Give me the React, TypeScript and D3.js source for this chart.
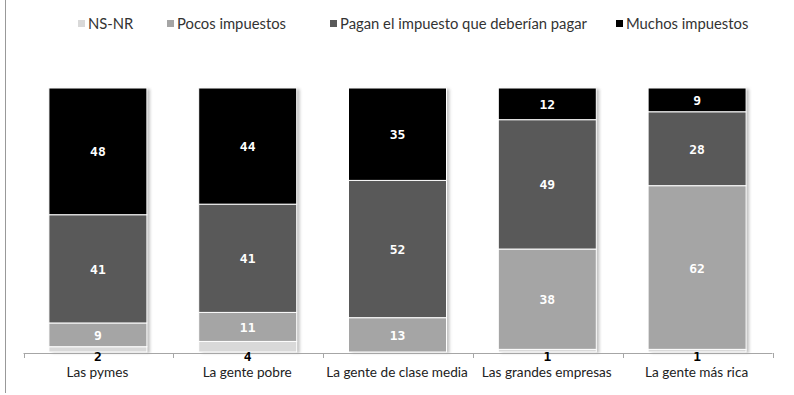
import React from "react";
import * as d3 from "d3";

const categories = ["Las pymes", "La gente pobre", "La gente de clase media", "Las grandes empresas", "La gente más rica"];
const seriesNames = ["NS-NR", "Pocos impuestos", "Pagan el impuesto que deberían pagar", "Muchos impuestos"];
const nsnr = [2, 4, 0, 1, 1];
const pocos = [9, 11, 13, 38, 62];
const pagan = [41, 41, 52, 49, 28];
const muchos = [48, 44, 35, 12, 9];
const colors = ["#d9d9d9", "#a5a5a5", "#595959", "#000000"];
const labelColors = ["#000000", "#ffffff", "#ffffff", "#ffffff"];

export default function App() {
  const W = 794, H = 395;
  const series = [nsnr, pocos, pagan, muchos];
  const rows = categories.map((c, i) => ({ cat: c, s0: nsnr[i], s1: pocos[i], s2: pagan[i], s3: muchos[i] }));
  const stack = d3.stack<any>().keys(["s0", "s1", "s2", "s3"])(rows);
  const x = d3.scaleBand().domain(categories).range([23.5, 772.5]).paddingInner(0).paddingOuter(0);
  const bw = 98;
  const y = d3.scaleLinear().domain([0, 100]).range([352, 88]);
  const axisY = 353;
  const legendX = [78, 167, 330, 616];
  const font = "Lato, 'Open Sans', sans-serif";
  return (
    <svg width={W} height={H} style={{ position: "absolute", left: 0, top: 0, background: "#fff" }}>
      <defs>
        <filter id="sh" x="-20%" y="-20%" width="140%" height="140%">
          <feGaussianBlur stdDeviation="1.5" />
        </filter>
      </defs>
      <rect width={W} height={H} fill="#fff" />
      <line x1={5.5} x2={5.5} y1={0} y2={393} stroke="#999" strokeWidth={1} />
      {/* legend */}
      {seriesNames.map((n, i) => (
        <g key={n}>
          <rect x={legendX[i]} y={20} width={7} height={7} fill={colors[i]} />
          <text x={legendX[i] + 10} y={29} fontFamily={font} fontSize={14.8} fill="#333">{n}</text>
        </g>
      ))}
      {/* shadows */}
      {categories.map((c) => {
        const x0 = (x(c) as number) + (x.bandwidth() - bw) / 2 - 0.5;
        return <rect key={"sh" + c} x={x0 + 3} y={y(100) + 1} width={bw} height={y(0) - y(100)} fill="#999" opacity={0.6} filter="url(#sh)" />;
      })}
      {/* bars */}
      {stack.map((layer, li) => (
        <g key={li}>
          {layer.map((d, ci) => {
            const v = d[1] - d[0];
            if (v <= 0) return null;
            const x0 = (x(categories[ci]) as number) + (x.bandwidth() - bw) / 2 - 0.5;
            return (
              <rect key={ci} x={x0} y={y(d[1])} width={bw} height={y(d[0]) - y(d[1])} fill={colors[li]} stroke="#fff" strokeWidth={1} />
            );
          })}
        </g>
      ))}
      {/* axis */}
      <line x1={23.5} x2={772.5} y1={axisY + 0.5} y2={axisY + 0.5} stroke="#a6a6a6" strokeWidth={1} />
      {d3.range(categories.length + 1).map((i) => {
        const tx = Math.round(23.5 + i * x.step()) + 0.5;
        return <line key={i} x1={tx} x2={tx} y1={axisY} y2={axisY + 5} stroke="#a6a6a6" />;
      })}
      {categories.map((c) => (
        <text key={c} x={(x(c) as number) + x.bandwidth() / 2 - 1} y={377} textAnchor="middle" fontFamily={font} fontSize={13.6} fill="#222">{c}</text>
      ))}
      {/* labels */}
      {stack.map((layer, li) => (
        <g key={"l" + li}>
          {layer.map((d, ci) => {
            const v = series[li][ci];
            if (v <= 0) return null;
            const cx = (x(categories[ci]) as number) + x.bandwidth() / 2 - 0.5;
            let cy = (y(d[0]) + y(d[1])) / 2 + 5;
            if (li === 0) cy = 361;
            return (
              <text key={ci} x={cx} y={cy} textAnchor="middle" fontFamily="'DejaVu Sans Mono', monospace" fontWeight="bold" fontSize={13} fill={labelColors[li]}>{v}</text>
            );
          })}
        </g>
      ))}
    </svg>
  );
}
